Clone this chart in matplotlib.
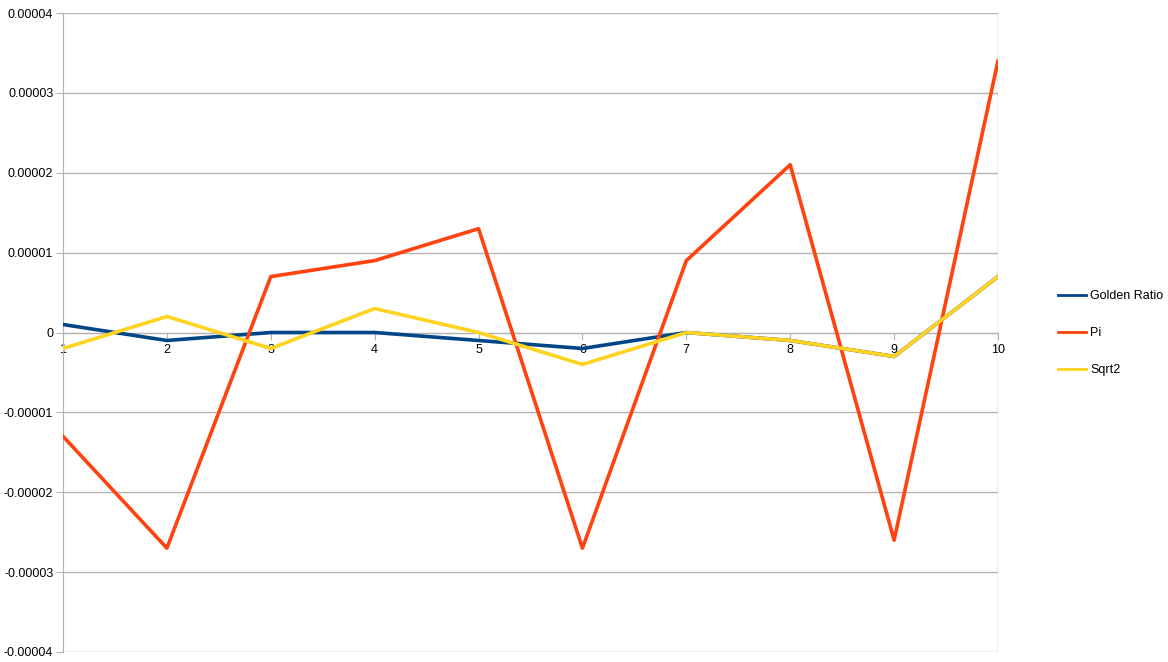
import matplotlib
matplotlib.use("Agg")
import matplotlib.pyplot as plt
from matplotlib.ticker import FixedLocator

plt.rcParams['font.family'] = ['Liberation Sans', 'DejaVu Sans']

categories = [1, 2, 3, 4, 5, 6, 7, 8, 9, 10]
golden_ratio = [0.000001, -0.000001, 0.0, 0.0, -0.000001, -0.000002, 0.0, -0.000001, -0.000003, 0.000007]
pi = [-0.000013, -0.000027, 0.000007, 0.000009, 0.000013, -0.000027, 0.000009, 0.000021, -0.000026, 0.000034]
sqrt2 = [-0.000002, 0.000002, -0.000002, 0.000003, 0.0, -0.000004, 0.0, -0.000001, -0.000003, 0.000007]
y_ticks = [-0.00004, -0.00003, -0.00002, -0.00001, 0, 0.00001, 0.00002, 0.00003, 0.00004]
y_labels = ["-0.00004", "-0.00003", "-0.00002", "-0.00001", "0", "0.00001", "0.00002", "0.00003", "0.00004"]

W, H = 1168, 662
fig = plt.figure(figsize=(W / 100, H / 100), dpi=100)
ax = fig.add_axes([63 / W, 1 - 652 / H, (998 - 63) / W, (652 - 13) / H])

grid_c = '#b3b3b3'
ax.plot(categories, golden_ratio, color='#004586', lw=2.6, label='Golden Ratio', zorder=3)
ax.plot(categories, pi, color='#ff420e', lw=2.6, label='Pi', zorder=3)
ax.plot(categories, sqrt2, color='#ffd320', lw=2.6, label='Sqrt2', zorder=3)

ax.set_xlim(1, 10)
ax.set_ylim(-0.00004, 0.00004)
ax.yaxis.set_major_locator(FixedLocator(y_ticks))
ax.set_yticklabels(y_labels)
ax.set_xticks(categories)
ax.set_xticklabels([str(c) for c in categories])
ax.grid(axis='y', color=grid_c, lw=1)
ax.set_axisbelow(True)

for s in ['top', 'right']:
    ax.spines[s].set_visible(False)
ax.spines['left'].set_color(grid_c)
ax.spines['bottom'].set_color(grid_c)
ax.spines['bottom'].set_position(('data', 0))
ax.tick_params(axis='y', colors=grid_c, labelcolor='black', labelsize=9, length=5, direction='out', pad=2)
ax.tick_params(axis='x', colors=grid_c, labelcolor='black', labelsize=9, length=5, direction='out', pad=3)
ax.axvline(10, color=grid_c, lw=1, zorder=1)

leg = fig.legend(loc='upper left', bbox_to_anchor=(1058 / W, 1 - 290 / H), frameon=False,
                 fontsize=9, handlelength=2.24, handletextpad=0.32, labelspacing=2.0,
                 borderpad=0, borderaxespad=0)
for line in leg.get_lines():
    line.set_linewidth(2)

fig.savefig('out.png', dpi=100)
